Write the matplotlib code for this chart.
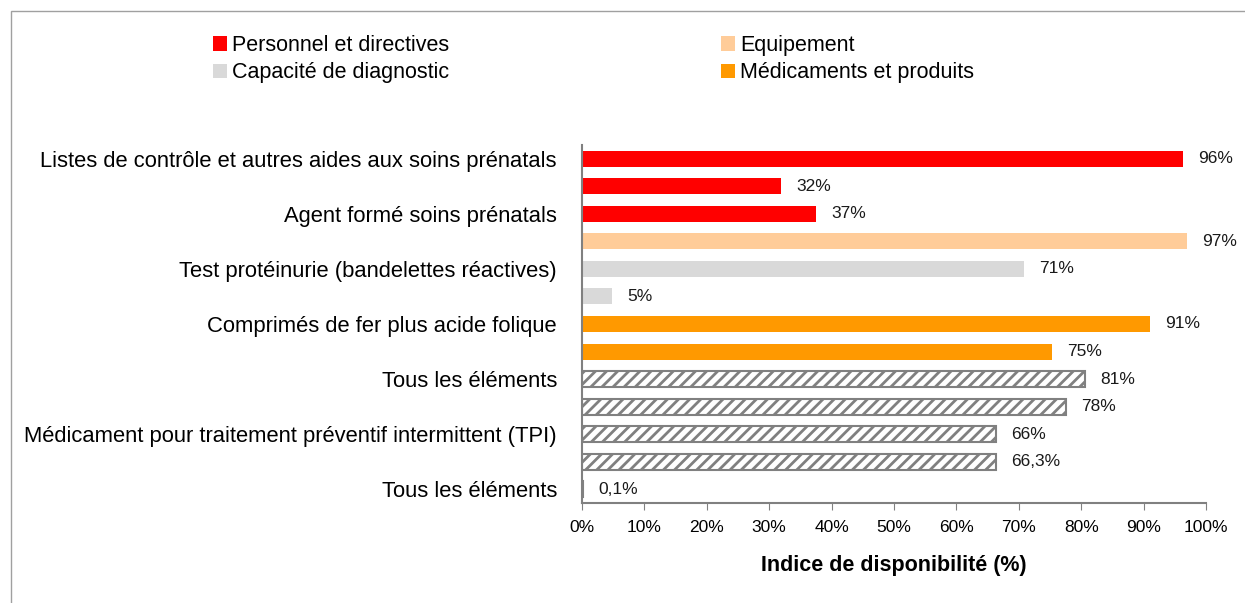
import matplotlib
matplotlib.use("Agg")
import matplotlib.pyplot as plt
from matplotlib.patches import Rectangle, Patch

plt.rcParams['font.family'] = ['Liberation Sans', 'DejaVu Sans']
plt.rcParams['hatch.linewidth'] = 2.0
plt.rcParams['hatch.color'] = '#808080'

categories = [
    "Listes de contrôle et autres aides aux soins prénatals",
    "",
    "Agent formé soins prénatals",
    "",
    "Test protéinurie (bandelettes réactives)",
    "",
    "Comprimés de fer plus acide folique",
    "",
    "Tous les éléments",
    "",
    "Médicament pour traitement préventif intermittent (TPI)",
    "",
    "Tous les éléments",
]
values = [96.3, 31.9, 37.5, 96.95, 70.8, 4.8, 91.0, 75.3, 80.6, 77.6, 66.3, 66.3, 0.1]
value_labels = ["96%", "32%", "37%", "97%", "71%", "5%", "91%", "75%", "81%", "78%", "66%", "66,3%", "0,1%"]
groups = ["perso", "perso", "perso", "equip", "diag", "diag", "med", "med",
          "hatch", "hatch", "hatch", "hatch", "hatch"]
group_names = {
    "perso": "Personnel et directives",
    "equip": "Equipement",
    "diag": "Capacité de diagnostic",
    "med": "Médicaments et produits",
}
colors = {"perso": "#FF0000", "equip": "#FFCC99", "diag": "#D9D9D9", "med": "#FF9900"}
x_ticks = [0, 10, 20, 30, 40, 50, 60, 70, 80, 90, 100]
x_tick_labels = [f"{t}%" for t in x_ticks]

W, H = 1245, 603
fig = plt.figure(figsize=(W / 100, H / 100), dpi=100)
fig.patch.set_facecolor('white')
# outer frame
fig.add_artist(Rectangle((11 / W, -0.05), 1.1, (H - 11) / H + 0.05, transform=fig.transFigure,
                         fill=False, edgecolor='#A0A0A0', linewidth=1))

ax = fig.add_axes([582 / W, (H - 503) / H, (1206 - 582) / W, (503 - 145) / H])
ypos = list(range(len(values)))
for y, v, g in zip(ypos, values, groups):
    if g == "hatch":
        ax.barh(y, v, height=0.58, color='white', edgecolor='#808080', hatch='///', linewidth=1.5)
    else:
        ax.barh(y, v, height=0.58, color=colors[g], edgecolor='none')
for y, v, lab in zip(ypos, values, value_labels):
    ax.annotate(lab, (v, y), xytext=(11, 0), textcoords='offset points',
                va='center', ha='left', fontsize=12.5, color='#1a1a1a')

ax.set_ylim(len(values) - 0.5, -0.5)
ax.set_xlim(0, 100)
ax.set_yticks(ypos)
ax.set_yticklabels(categories, fontsize=15.8)
ax.set_xticks(x_ticks)
ax.set_xticklabels(x_tick_labels, fontsize=12.5)
ax.tick_params(axis='y', length=0, pad=18)
ax.tick_params(axis='x', length=5, color='#808080', pad=7, direction='out')
for s in ['top', 'right']:
    ax.spines[s].set_visible(False)
for s in ['left', 'bottom']:
    ax.spines[s].set_color('#808080')
    ax.spines[s].set_linewidth(1.5)
ax.set_xlabel("Indice de disponibilité (%)", fontsize=15.5, fontweight='bold', labelpad=15)

handles = [Patch(facecolor=colors[k], edgecolor='none') for k in ["perso", "diag", "equip", "med"]]
labels = [group_names[k] for k in ["perso", "diag", "equip", "med"]]
fig.legend(handles, labels, loc='upper left', bbox_to_anchor=(213 / W, 1 - 35 / H), ncol=2,
           frameon=False, fontsize=15.5, handlelength=0.65, handleheight=0.65, handletextpad=0.25,
           columnspacing=12.6, labelspacing=0.3, borderaxespad=0, borderpad=0)

fig.savefig("out.png", dpi=100, facecolor='white')
